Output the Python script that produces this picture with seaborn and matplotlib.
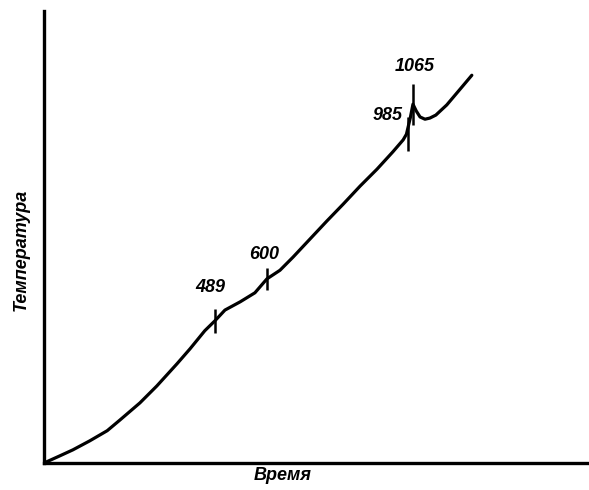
import matplotlib
matplotlib.use("Agg")
import matplotlib.pyplot as plt
import seaborn as sns
import pandas as pd

# Heating curve: time (arbitrary units) vs temperature (deg C)
time = [0, 2.9, 5.3, 8.4, 11.6, 13.9, 17.6, 20.7, 24.4, 26.8, 29.5, 31.4,
        33.2, 36.0, 38.7, 40.9, 43.3, 45.7, 48.8, 51.9, 54.9, 58.0, 61.1,
        64.0, 65.9, 66.5, 67.2, 67.7, 68.3, 69.0, 69.9, 70.8, 71.9, 73.9,
        76.7, 78.5]
temperature = [110, 129, 145, 169, 196, 224, 270, 315, 374, 414, 462, 489,
               517, 539, 563, 600, 623, 658, 706, 754, 799, 847, 892,
               938, 970, 985, 1028, 1065, 1047, 1031, 1025, 1028, 1036, 1063,
               1111, 1142]

# Critical points marked on the curve
point_labels = ["489", "600", "985", "1065"]
point_temps = [489, 600, 985, 1065]
point_times = [31.4, 40.9, 66.7, 67.7]
tick_half = [32, 30, 45, 55]
label_dt = [-0.8, -0.5, -3.6, 0.4]
label_dT = [87, 66, 51, 99]

x_title = "Время"
y_title = "Температура"

sns.set_theme(style="white")
plt.rcParams["font.family"] = ["Liberation Sans", "DejaVu Sans"]

fig = plt.figure(figsize=(5.89, 4.90), dpi=100)
ax = fig.add_axes([44 / 589, 27 / 490, 545 / 589, 452 / 490])

df = pd.DataFrame({"t": time, "T": temperature})
sns.lineplot(data=df, x="t", y="T", sort=False, estimator=None,
             color="black", linewidth=2.3, ax=ax)

for lab, T, t, h, dt, dT in zip(point_labels, point_temps, point_times,
                                 tick_half, label_dt, label_dT):
    ax.plot([t, t], [T - h, T + h], color="black", linewidth=1.8,
            solid_capstyle="butt")
    ax.text(t + dt, T + dT, lab, ha="center", va="center", fontsize=13,
            style="italic", fontweight="bold", color="black")

ax.set_xlim(0, 100)
ax.set_ylim(110, 1313)
ax.set_xticks([])
ax.set_yticks([])
for side in ["top", "right"]:
    ax.spines[side].set_visible(False)
for side in ["left", "bottom"]:
    ax.spines[side].set_color("black")
    ax.spines[side].set_linewidth(2.4)

ax.set_xlabel(x_title, fontsize=13, style="italic", fontweight="bold",
              va="center", color="black")
ax.set_ylabel(y_title, fontsize=13, style="italic", fontweight="bold",
              va="center", color="black")
ax.xaxis.set_label_coords(0.4385, -0.028)
ax.yaxis.set_label_coords(-0.042, 0.471)

fig.savefig("out.png", dpi=100)
